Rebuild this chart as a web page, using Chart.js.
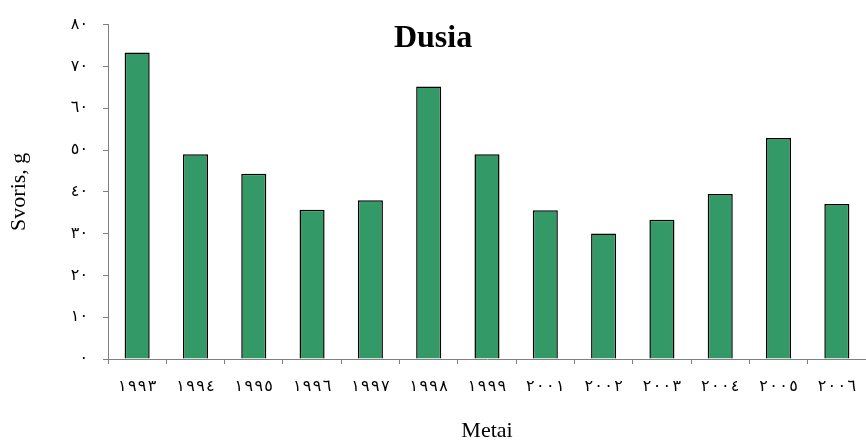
<!DOCTYPE html>
<html>
<head>
<meta charset="utf-8">
<script src="https://cdn.jsdelivr.net/npm/chart.js@4/dist/chart.umd.min.js"></script>
<style>
  html, body { margin: 0; padding: 0; background: #fff; }
  #wrap { width: 866px; height: 440px; }
</style>
</head>
<body>
<div id="wrap"><canvas id="c" width="866" height="440"></canvas></div>
<script>
// Years (Arabic-Indic numerals) and weights in grams
const years = ['١٩٩٣', '١٩٩٤', '١٩٩٥', '١٩٩٦', '١٩٩٧', '١٩٩٨', '١٩٩٩', '٢٠٠١', '٢٠٠٢', '٢٠٠٣', '٢٠٠٤', '٢٠٠٥', '٢٠٠٦'];
const weights = [73.3, 49.0, 44.3, 35.7, 38.0, 65.2, 49.0, 35.6, 30.0, 33.3, 39.5, 52.9, 37.1];
const yTickLabels = ['٠', '١٠', '٢٠', '٣٠', '٤٠', '٥٠', '٦٠', '٧٠', '٨٠'];
const yMin = 0, yMax = 80, yStep = 10;

const serif = "'Liberation Serif', 'Times New Roman', 'DejaVu Sans', serif";
// hair space plus a left-to-right mark keeps the spaced digits in reading order
const digitGap = '\u200A\u200E';

// Chart title drawn over the plot area, centred on the canvas
const titlePlugin = {
  id: 'dusiaTitle',
  afterDraw(chart) {
    const ctx = chart.ctx;
    ctx.save();
    ctx.font = "bold 32px " + serif;
    ctx.fillStyle = '#000';
    ctx.textAlign = 'center';
    ctx.textBaseline = 'alphabetic';
    ctx.fillText('Dusia', chart.width / 2, 47);
    ctx.restore();
  }
};

new Chart(document.getElementById('c'), {
  type: 'bar',
  data: {
    labels: years,
    datasets: [{
      data: weights,
      backgroundColor: '#339966',
      borderColor: '#000',
      borderWidth: 1.5,
      barPercentage: 0.43,
      categoryPercentage: 1.0
    }]
  },
  options: {
    responsive: false,
    animation: false,
    layout: { padding: { top: 23, right: 0, left: 0, bottom: 0 } },
    plugins: {
      legend: { display: false },
      tooltip: { enabled: false }
    },
    scales: {
      x: {
        offset: true,
        grid: { display: true, drawOnChartArea: false, tickLength: 5, color: '#808080', offset: true },
        border: { color: '#808080', width: 1 },
        ticks: {
          color: '#000',
          font: { family: serif, size: 16 },
          padding: 13,
          maxRotation: 0,
          autoSkip: false,
          callback: (v, i) => years[i].split('').join(digitGap)
        },
        title: {
          display: true,
          text: 'Metai',
          color: '#000',
          font: { family: serif, size: 22 },
          padding: { top: 0, bottom: -4 }
        },
        afterFit(scale) {
          scale.height = 81;
          // plot runs right up to the canvas edge
          scale.paddingLeft = 0;
          scale.paddingRight = 0;
        }
      },
      y: {
        min: yMin,
        max: yMax,
        grid: { display: true, drawOnChartArea: false, tickLength: 5, color: '#808080' },
        border: { color: '#808080', width: 1 },
        ticks: {
          stepSize: yStep,
          color: '#000',
          font: { family: serif, size: 16 },
          padding: 15,
          callback: (v) => yTickLabels[Math.round((v - yMin) / yStep)]
        },
        title: {
          display: true,
          text: 'Svoris, g',
          color: '#000',
          font: { family: serif, size: 22 },
          padding: { top: 6, bottom: 0 }
        },
        afterFit(scale) { scale.width = 108; }
      }
    }
  },
  plugins: [titlePlugin]
});
</script>
</body>
</html>
